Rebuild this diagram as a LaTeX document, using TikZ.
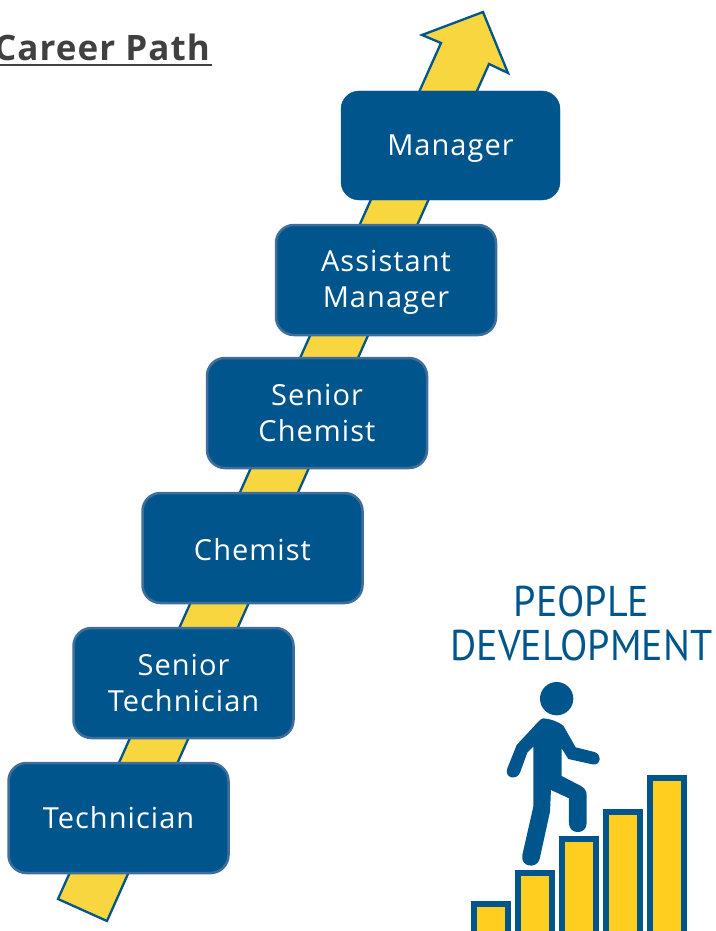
\documentclass[tikz,border=0pt]{standalone}
\usepackage{fontspec}
\newfontfamily\labfont[LetterSpace=3.6]{Open Sans}
\newfontfamily\titlefont[LetterSpace=3]{Open Sans}
\newfontfamily\pplfont{PT Sans}
\usetikzlibrary{calc}
\definecolor{navy}{HTML}{00568C}
\definecolor{edgeblue}{HTML}{3F6E9C}
\definecolor{arrowyellow}{HTML}{F7D640}
\definecolor{baryellow}{HTML}{FFCE1F}
\definecolor{titlegray}{HTML}{404040}
\tikzset{
  x=1pt,y=-1pt,
  rung/.style={draw=edgeblue,line width=2.5pt,fill=navy,rounded corners=18pt,text=white,
    align=center,inner sep=0pt,minimum width=220pt,minimum height=110pt,
    font=\labfont\fontsize{29}{36.5}\selectfont},
  topbox/.style={rung,draw=navy,line width=0.4pt,minimum width=219pt,minimum height=109pt},
  stairbar/.style={draw=navy,fill=baryellow,line width=5.6pt,line join=miter},
  climbarrow/.style={draw=navy,fill=arrowyellow,line width=2.3pt,line join=miter},
}
\begin{document}
\begin{tikzpicture}
\useasboundingbox (0,0) rectangle (715,931);
\clip (0,0) rectangle (715,931);
% arrow
\draw[climbarrow] (58,899) -- (441,43) -- (422,35) -- (483,12) -- (508,73) -- (489,64) -- (107,921) -- cycle;
% boxes
\node[topbox] (mgr) at (450.5,145.5) {\rule{0pt}{27.5pt}Manager};
\node[rung] (asst) at (386,280) {\rule{0pt}{26pt}Assistant\\Manager};
\node[rung] (schem) at (317,413) {Senior\\Chemist};
\node[rung] (chem) at (252.5,548) {\rule{0pt}{24.5pt}Chemist};
\node[rung] (stech) at (183.5,683) {Senior\\Technician};
\node[rung] (tech) at (118.5,818) {Technician};
% title
\node[anchor=base east,inner sep=0pt,text=titlegray,font=\titlefont\bfseries\fontsize{35}{40}\selectfont] (title) at (210,61) {Career Path};
\draw[titlegray,line width=2.2pt] (-5,64.8) -- (211.5,64.8);
% people development
\node[anchor=base,inner sep=0pt,text=navy,xscale=0.93,font=\pplfont\fontsize{43}{46}\selectfont] (ppl) at (581.5,616) {PEOPLE};
\node[anchor=base,inner sep=0pt,text=navy,xscale=0.93,font=\pplfont\fontsize{43}{46}\selectfont] (dev) at (581.5,660) {DEVELOPMENT};
% bars
\draw[stairbar] (473.8,940) -- (473.8,903.8) -- (507.8,903.8) -- (507.8,940);
\draw[stairbar] (517.8,940) -- (517.8,872.8) -- (551.8,872.8) -- (551.8,940);
\draw[stairbar] (561.8,940) -- (561.8,838.8) -- (595.8,838.8) -- (595.8,940);
\draw[stairbar] (605.8,940) -- (605.8,811.8) -- (639.8,811.8) -- (639.8,940);
\draw[stairbar] (650,940) -- (650,777.8) -- (684,777.8) -- (684,940);
% person
\begin{scope}[shift={(400,660)},x=0.3333pt,y=-0.3333pt]
\fill[navy] (470,116) circle [radius=50];
\fill[navy] (430,175) .. controls (450,176) and (475,185) .. (490,197) -- (527,262) -- (583,276)
  .. controls (606,282) and (604,318) .. (577,313) -- (505,297) -- (485,265) -- (485,348) -- (543,378)
  .. controls (553,384) and (560,392) .. (560,405) -- (560,490)
  .. controls (560,525) and (507,525) .. (507,490) -- (507,415) -- (453,390) -- (450,455) -- (419,597)
  .. controls (411,628) and (360,622) .. (367,585) -- (400,440) -- (400,260) -- (382,278) -- (360,338)
  .. controls (350,362) and (312,355) .. (322,325) -- (350,255) -- (415,185)
  .. controls (420,180) and (425,175) .. (430,175) -- cycle;
\end{scope}
\end{tikzpicture}
\end{document}
